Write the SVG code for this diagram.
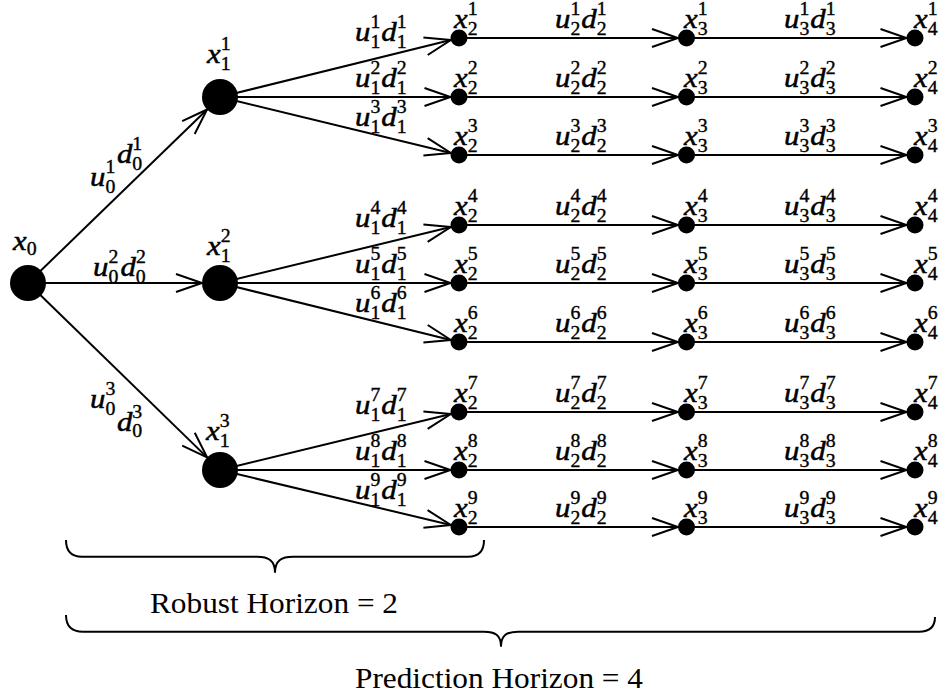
<svg xmlns="http://www.w3.org/2000/svg" width="945" height="696" viewBox="0 0 945 696">
  <style>
    .m { font-family: "Liberation Serif", "Times New Roman", serif; font-style: italic; font-size: 28px; fill: #000; stroke: #000; stroke-width: 0.5; }
    .s { font-style: normal; font-size: 18px; stroke-width: 0.35; }
    .h { font-family: "Liberation Serif", "Times New Roman", serif; font-size: 30px; fill: #000; }
    .e { stroke: #000; stroke-width: 2; fill: none; marker-end: url(#arr); }
    .brace { stroke: #000; stroke-width: 2; fill: none; }
    .node { fill: #000; }
  </style>
  <defs>
    <marker id="arr" markerUnits="userSpaceOnUse" markerWidth="40" markerHeight="40" refX="0" refY="0" orient="auto" overflow="visible">
      <path d="M-26,-9 L0,0 L-26,9" fill="none" stroke="#000" stroke-width="2"/>
    </marker>
  </defs>

  <!-- connectors -->
  <g id="connectors">
    <line class="e" x1="28" y1="283" x2="207.1" y2="109.5"/>
    <line class="e" x1="28" y1="283" x2="202" y2="283"/>
    <line class="e" x1="28" y1="283" x2="207.1" y2="457.4"/>

    <line class="e" x1="220" y1="97" x2="450.8" y2="40"/>
    <line class="e" x1="220" y1="97" x2="450.5" y2="97"/>
    <line class="e" x1="220" y1="97" x2="450.8" y2="153"/>
    <line class="e" x1="220" y1="283" x2="450.8" y2="227"/>
    <line class="e" x1="220" y1="283" x2="450.5" y2="283"/>
    <line class="e" x1="220" y1="283" x2="450.8" y2="340"/>
    <line class="e" x1="220" y1="470" x2="450.8" y2="414"/>
    <line class="e" x1="220" y1="470" x2="450.5" y2="470"/>
    <line class="e" x1="220" y1="470" x2="450.8" y2="525"/>

    <line class="e" x1="459" y1="38" x2="678" y2="38"/>
    <line class="e" x1="459" y1="97" x2="678" y2="97"/>
    <line class="e" x1="459" y1="155" x2="678" y2="155"/>
    <line class="e" x1="459" y1="225" x2="678" y2="225"/>
    <line class="e" x1="459" y1="283" x2="678" y2="283"/>
    <line class="e" x1="459" y1="342" x2="678" y2="342"/>
    <line class="e" x1="459" y1="412" x2="678" y2="412"/>
    <line class="e" x1="459" y1="470" x2="678" y2="470"/>
    <line class="e" x1="459" y1="527" x2="678" y2="527"/>

    <line class="e" x1="686.5" y1="38" x2="906.5" y2="38"/>
    <line class="e" x1="686.5" y1="97" x2="906.5" y2="97"/>
    <line class="e" x1="686.5" y1="155" x2="906.5" y2="155"/>
    <line class="e" x1="686.5" y1="225" x2="906.5" y2="225"/>
    <line class="e" x1="686.5" y1="283" x2="906.5" y2="283"/>
    <line class="e" x1="686.5" y1="342" x2="906.5" y2="342"/>
    <line class="e" x1="686.5" y1="412" x2="906.5" y2="412"/>
    <line class="e" x1="686.5" y1="470" x2="906.5" y2="470"/>
    <line class="e" x1="686.5" y1="527" x2="906.5" y2="527"/>

    <!-- edge labels: stage 0 (u^k_0 d^k_0) -->
    <text class="m" transform="translate(90,186) scale(1.1,1)">u<tspan class="s" dy="-13.5">1</tspan><tspan class="s" dx="-9" dy="20">0</tspan><tspan x="24.5" y="-23">d</tspan><tspan class="s" dy="-13.5">1</tspan><tspan class="s" dx="-9" dy="20">0</tspan></text>
    <text class="m" transform="translate(93,276) scale(1.1,1)">u<tspan class="s" dy="-13.5">2</tspan><tspan class="s" dx="-9" dy="20">0</tspan><tspan dx="2" dy="-6.5">d</tspan><tspan class="s" dy="-13.5">2</tspan><tspan class="s" dx="-9" dy="20">0</tspan></text>
    <text class="m" transform="translate(90,408) scale(1.1,1)">u<tspan class="s" dy="-13.5">3</tspan><tspan class="s" dx="-9" dy="20">0</tspan><tspan x="24.5" y="23">d</tspan><tspan class="s" dy="-13.5">3</tspan><tspan class="s" dx="-9" dy="20">0</tspan></text>

    <!-- edge labels: stage 1 -->
    <text class="m" transform="translate(355,41) scale(1.1,1)">u<tspan class="s" dy="-13.5">1</tspan><tspan class="s" dx="-9" dy="20">1</tspan><tspan dx="1" dy="-6.5">d</tspan><tspan class="s" dy="-13.5">1</tspan><tspan class="s" dx="-9" dy="20">1</tspan></text>
    <text class="m" transform="translate(355,87) scale(1.1,1)">u<tspan class="s" dy="-13.5">2</tspan><tspan class="s" dx="-9" dy="20">1</tspan><tspan dx="1" dy="-6.5">d</tspan><tspan class="s" dy="-13.5">2</tspan><tspan class="s" dx="-9" dy="20">1</tspan></text>
    <text class="m" transform="translate(355,126) scale(1.1,1)">u<tspan class="s" dy="-13.5">3</tspan><tspan class="s" dx="-9" dy="20">1</tspan><tspan dx="1" dy="-6.5">d</tspan><tspan class="s" dy="-13.5">3</tspan><tspan class="s" dx="-9" dy="20">1</tspan></text>
    <text class="m" transform="translate(355,227) scale(1.1,1)">u<tspan class="s" dy="-13.5">4</tspan><tspan class="s" dx="-9" dy="20">1</tspan><tspan dx="1" dy="-6.5">d</tspan><tspan class="s" dy="-13.5">4</tspan><tspan class="s" dx="-9" dy="20">1</tspan></text>
    <text class="m" transform="translate(355,273) scale(1.1,1)">u<tspan class="s" dy="-13.5">5</tspan><tspan class="s" dx="-9" dy="20">1</tspan><tspan dx="1" dy="-6.5">d</tspan><tspan class="s" dy="-13.5">5</tspan><tspan class="s" dx="-9" dy="20">1</tspan></text>
    <text class="m" transform="translate(355,312) scale(1.1,1)">u<tspan class="s" dy="-13.5">6</tspan><tspan class="s" dx="-9" dy="20">1</tspan><tspan dx="1" dy="-6.5">d</tspan><tspan class="s" dy="-13.5">6</tspan><tspan class="s" dx="-9" dy="20">1</tspan></text>
    <text class="m" transform="translate(355,414) scale(1.1,1)">u<tspan class="s" dy="-13.5">7</tspan><tspan class="s" dx="-9" dy="20">1</tspan><tspan dx="1" dy="-6.5">d</tspan><tspan class="s" dy="-13.5">7</tspan><tspan class="s" dx="-9" dy="20">1</tspan></text>
    <text class="m" transform="translate(355,460) scale(1.1,1)">u<tspan class="s" dy="-13.5">8</tspan><tspan class="s" dx="-9" dy="20">1</tspan><tspan dx="1" dy="-6.5">d</tspan><tspan class="s" dy="-13.5">8</tspan><tspan class="s" dx="-9" dy="20">1</tspan></text>
    <text class="m" transform="translate(355,499) scale(1.1,1)">u<tspan class="s" dy="-13.5">9</tspan><tspan class="s" dx="-9" dy="20">1</tspan><tspan dx="1" dy="-6.5">d</tspan><tspan class="s" dy="-13.5">9</tspan><tspan class="s" dx="-9" dy="20">1</tspan></text>

    <!-- edge labels: stage 2 -->
    <text class="m" transform="translate(555,28) scale(1.1,1)">u<tspan class="s" dy="-13.5">1</tspan><tspan class="s" dx="-9" dy="20">2</tspan><tspan dx="1" dy="-6.5">d</tspan><tspan class="s" dy="-13.5">1</tspan><tspan class="s" dx="-9" dy="20">2</tspan></text>
    <text class="m" transform="translate(555,87) scale(1.1,1)">u<tspan class="s" dy="-13.5">2</tspan><tspan class="s" dx="-9" dy="20">2</tspan><tspan dx="1" dy="-6.5">d</tspan><tspan class="s" dy="-13.5">2</tspan><tspan class="s" dx="-9" dy="20">2</tspan></text>
    <text class="m" transform="translate(555,145) scale(1.1,1)">u<tspan class="s" dy="-13.5">3</tspan><tspan class="s" dx="-9" dy="20">2</tspan><tspan dx="1" dy="-6.5">d</tspan><tspan class="s" dy="-13.5">3</tspan><tspan class="s" dx="-9" dy="20">2</tspan></text>
    <text class="m" transform="translate(555,215) scale(1.1,1)">u<tspan class="s" dy="-13.5">4</tspan><tspan class="s" dx="-9" dy="20">2</tspan><tspan dx="1" dy="-6.5">d</tspan><tspan class="s" dy="-13.5">4</tspan><tspan class="s" dx="-9" dy="20">2</tspan></text>
    <text class="m" transform="translate(555,273) scale(1.1,1)">u<tspan class="s" dy="-13.5">5</tspan><tspan class="s" dx="-9" dy="20">2</tspan><tspan dx="1" dy="-6.5">d</tspan><tspan class="s" dy="-13.5">5</tspan><tspan class="s" dx="-9" dy="20">2</tspan></text>
    <text class="m" transform="translate(555,332) scale(1.1,1)">u<tspan class="s" dy="-13.5">6</tspan><tspan class="s" dx="-9" dy="20">2</tspan><tspan dx="1" dy="-6.5">d</tspan><tspan class="s" dy="-13.5">6</tspan><tspan class="s" dx="-9" dy="20">2</tspan></text>
    <text class="m" transform="translate(555,402) scale(1.1,1)">u<tspan class="s" dy="-13.5">7</tspan><tspan class="s" dx="-9" dy="20">2</tspan><tspan dx="1" dy="-6.5">d</tspan><tspan class="s" dy="-13.5">7</tspan><tspan class="s" dx="-9" dy="20">2</tspan></text>
    <text class="m" transform="translate(555,460) scale(1.1,1)">u<tspan class="s" dy="-13.5">8</tspan><tspan class="s" dx="-9" dy="20">2</tspan><tspan dx="1" dy="-6.5">d</tspan><tspan class="s" dy="-13.5">8</tspan><tspan class="s" dx="-9" dy="20">2</tspan></text>
    <text class="m" transform="translate(555,517) scale(1.1,1)">u<tspan class="s" dy="-13.5">9</tspan><tspan class="s" dx="-9" dy="20">2</tspan><tspan dx="1" dy="-6.5">d</tspan><tspan class="s" dy="-13.5">9</tspan><tspan class="s" dx="-9" dy="20">2</tspan></text>

    <!-- edge labels: stage 3 -->
    <text class="m" transform="translate(784,28) scale(1.1,1)">u<tspan class="s" dy="-13.5">1</tspan><tspan class="s" dx="-9" dy="20">3</tspan><tspan dx="1" dy="-6.5">d</tspan><tspan class="s" dy="-13.5">1</tspan><tspan class="s" dx="-9" dy="20">3</tspan></text>
    <text class="m" transform="translate(784,87) scale(1.1,1)">u<tspan class="s" dy="-13.5">2</tspan><tspan class="s" dx="-9" dy="20">3</tspan><tspan dx="1" dy="-6.5">d</tspan><tspan class="s" dy="-13.5">2</tspan><tspan class="s" dx="-9" dy="20">3</tspan></text>
    <text class="m" transform="translate(784,145) scale(1.1,1)">u<tspan class="s" dy="-13.5">3</tspan><tspan class="s" dx="-9" dy="20">3</tspan><tspan dx="1" dy="-6.5">d</tspan><tspan class="s" dy="-13.5">3</tspan><tspan class="s" dx="-9" dy="20">3</tspan></text>
    <text class="m" transform="translate(784,215) scale(1.1,1)">u<tspan class="s" dy="-13.5">4</tspan><tspan class="s" dx="-9" dy="20">3</tspan><tspan dx="1" dy="-6.5">d</tspan><tspan class="s" dy="-13.5">4</tspan><tspan class="s" dx="-9" dy="20">3</tspan></text>
    <text class="m" transform="translate(784,273) scale(1.1,1)">u<tspan class="s" dy="-13.5">5</tspan><tspan class="s" dx="-9" dy="20">3</tspan><tspan dx="1" dy="-6.5">d</tspan><tspan class="s" dy="-13.5">5</tspan><tspan class="s" dx="-9" dy="20">3</tspan></text>
    <text class="m" transform="translate(784,332) scale(1.1,1)">u<tspan class="s" dy="-13.5">6</tspan><tspan class="s" dx="-9" dy="20">3</tspan><tspan dx="1" dy="-6.5">d</tspan><tspan class="s" dy="-13.5">6</tspan><tspan class="s" dx="-9" dy="20">3</tspan></text>
    <text class="m" transform="translate(784,402) scale(1.1,1)">u<tspan class="s" dy="-13.5">7</tspan><tspan class="s" dx="-9" dy="20">3</tspan><tspan dx="1" dy="-6.5">d</tspan><tspan class="s" dy="-13.5">7</tspan><tspan class="s" dx="-9" dy="20">3</tspan></text>
    <text class="m" transform="translate(784,460) scale(1.1,1)">u<tspan class="s" dy="-13.5">8</tspan><tspan class="s" dx="-9" dy="20">3</tspan><tspan dx="1" dy="-6.5">d</tspan><tspan class="s" dy="-13.5">8</tspan><tspan class="s" dx="-9" dy="20">3</tspan></text>
    <text class="m" transform="translate(784,517) scale(1.1,1)">u<tspan class="s" dy="-13.5">9</tspan><tspan class="s" dx="-9" dy="20">3</tspan><tspan dx="1" dy="-6.5">d</tspan><tspan class="s" dy="-13.5">9</tspan><tspan class="s" dx="-9" dy="20">3</tspan></text>
  </g>

  <!-- root and first-stage nodes -->
  <g id="n-x0"><circle class="node" cx="28" cy="283" r="18"/><text class="m" transform="translate(13,250) scale(1.1,1)">x<tspan class="s" dy="5">0</tspan></text></g>
  <g id="n-x1-1"><circle class="node" cx="220" cy="97" r="18"/><text class="m" transform="translate(207,63) scale(1.1,1)">x<tspan class="s" dy="-13.5">1</tspan><tspan class="s" dx="-9" dy="20">1</tspan></text></g>
  <g id="n-x1-2"><circle class="node" cx="220" cy="283" r="18"/><text class="m" transform="translate(207,255) scale(1.1,1)">x<tspan class="s" dy="-13.5">2</tspan><tspan class="s" dx="-9" dy="20">1</tspan></text></g>
  <g id="n-x1-3"><circle class="node" cx="220" cy="470" r="18"/><text class="m" transform="translate(206,440) scale(1.1,1)">x<tspan class="s" dy="-13.5">3</tspan><tspan class="s" dx="-9" dy="20">1</tspan></text></g>

  <!-- stage 2 nodes -->
  <g id="n-x2-1"><circle class="node" cx="459" cy="38" r="8.5"/><text class="m" transform="translate(454,28) scale(1.1,1)">x<tspan class="s" dy="-13.5">1</tspan><tspan class="s" dx="-9" dy="20">2</tspan></text></g>
  <g id="n-x2-2"><circle class="node" cx="459" cy="97" r="8.5"/><text class="m" transform="translate(454,87) scale(1.1,1)">x<tspan class="s" dy="-13.5">2</tspan><tspan class="s" dx="-9" dy="20">2</tspan></text></g>
  <g id="n-x2-3"><circle class="node" cx="459" cy="155" r="8.5"/><text class="m" transform="translate(454,145) scale(1.1,1)">x<tspan class="s" dy="-13.5">3</tspan><tspan class="s" dx="-9" dy="20">2</tspan></text></g>
  <g id="n-x2-4"><circle class="node" cx="459" cy="225" r="8.5"/><text class="m" transform="translate(454,215) scale(1.1,1)">x<tspan class="s" dy="-13.5">4</tspan><tspan class="s" dx="-9" dy="20">2</tspan></text></g>
  <g id="n-x2-5"><circle class="node" cx="459" cy="283" r="8.5"/><text class="m" transform="translate(454,273) scale(1.1,1)">x<tspan class="s" dy="-13.5">5</tspan><tspan class="s" dx="-9" dy="20">2</tspan></text></g>
  <g id="n-x2-6"><circle class="node" cx="459" cy="342" r="8.5"/><text class="m" transform="translate(454,332) scale(1.1,1)">x<tspan class="s" dy="-13.5">6</tspan><tspan class="s" dx="-9" dy="20">2</tspan></text></g>
  <g id="n-x2-7"><circle class="node" cx="459" cy="412" r="8.5"/><text class="m" transform="translate(454,402) scale(1.1,1)">x<tspan class="s" dy="-13.5">7</tspan><tspan class="s" dx="-9" dy="20">2</tspan></text></g>
  <g id="n-x2-8"><circle class="node" cx="459" cy="470" r="8.5"/><text class="m" transform="translate(454,460) scale(1.1,1)">x<tspan class="s" dy="-13.5">8</tspan><tspan class="s" dx="-9" dy="20">2</tspan></text></g>
  <g id="n-x2-9"><circle class="node" cx="459" cy="527" r="8.5"/><text class="m" transform="translate(454,517) scale(1.1,1)">x<tspan class="s" dy="-13.5">9</tspan><tspan class="s" dx="-9" dy="20">2</tspan></text></g>

  <!-- stage 3 nodes -->
  <g id="n-x3-1"><circle class="node" cx="686.5" cy="38" r="8.5"/><text class="m" transform="translate(684,28) scale(1.1,1)">x<tspan class="s" dy="-13.5">1</tspan><tspan class="s" dx="-9" dy="20">3</tspan></text></g>
  <g id="n-x3-2"><circle class="node" cx="686.5" cy="97" r="8.5"/><text class="m" transform="translate(684,87) scale(1.1,1)">x<tspan class="s" dy="-13.5">2</tspan><tspan class="s" dx="-9" dy="20">3</tspan></text></g>
  <g id="n-x3-3"><circle class="node" cx="686.5" cy="155" r="8.5"/><text class="m" transform="translate(684,145) scale(1.1,1)">x<tspan class="s" dy="-13.5">3</tspan><tspan class="s" dx="-9" dy="20">3</tspan></text></g>
  <g id="n-x3-4"><circle class="node" cx="686.5" cy="225" r="8.5"/><text class="m" transform="translate(684,215) scale(1.1,1)">x<tspan class="s" dy="-13.5">4</tspan><tspan class="s" dx="-9" dy="20">3</tspan></text></g>
  <g id="n-x3-5"><circle class="node" cx="686.5" cy="283" r="8.5"/><text class="m" transform="translate(684,273) scale(1.1,1)">x<tspan class="s" dy="-13.5">5</tspan><tspan class="s" dx="-9" dy="20">3</tspan></text></g>
  <g id="n-x3-6"><circle class="node" cx="686.5" cy="342" r="8.5"/><text class="m" transform="translate(684,332) scale(1.1,1)">x<tspan class="s" dy="-13.5">6</tspan><tspan class="s" dx="-9" dy="20">3</tspan></text></g>
  <g id="n-x3-7"><circle class="node" cx="686.5" cy="412" r="8.5"/><text class="m" transform="translate(684,402) scale(1.1,1)">x<tspan class="s" dy="-13.5">7</tspan><tspan class="s" dx="-9" dy="20">3</tspan></text></g>
  <g id="n-x3-8"><circle class="node" cx="686.5" cy="470" r="8.5"/><text class="m" transform="translate(684,460) scale(1.1,1)">x<tspan class="s" dy="-13.5">8</tspan><tspan class="s" dx="-9" dy="20">3</tspan></text></g>
  <g id="n-x3-9"><circle class="node" cx="686.5" cy="527" r="8.5"/><text class="m" transform="translate(684,517) scale(1.1,1)">x<tspan class="s" dy="-13.5">9</tspan><tspan class="s" dx="-9" dy="20">3</tspan></text></g>

  <!-- stage 4 nodes -->
  <g id="n-x4-1"><circle class="node" cx="915" cy="38" r="8.5"/><text class="m" transform="translate(914,28) scale(1.1,1)">x<tspan class="s" dy="-13.5">1</tspan><tspan class="s" dx="-9" dy="20">4</tspan></text></g>
  <g id="n-x4-2"><circle class="node" cx="915" cy="97" r="8.5"/><text class="m" transform="translate(914,87) scale(1.1,1)">x<tspan class="s" dy="-13.5">2</tspan><tspan class="s" dx="-9" dy="20">4</tspan></text></g>
  <g id="n-x4-3"><circle class="node" cx="915" cy="155" r="8.5"/><text class="m" transform="translate(914,145) scale(1.1,1)">x<tspan class="s" dy="-13.5">3</tspan><tspan class="s" dx="-9" dy="20">4</tspan></text></g>
  <g id="n-x4-4"><circle class="node" cx="915" cy="225" r="8.5"/><text class="m" transform="translate(914,215) scale(1.1,1)">x<tspan class="s" dy="-13.5">4</tspan><tspan class="s" dx="-9" dy="20">4</tspan></text></g>
  <g id="n-x4-5"><circle class="node" cx="915" cy="283" r="8.5"/><text class="m" transform="translate(914,273) scale(1.1,1)">x<tspan class="s" dy="-13.5">5</tspan><tspan class="s" dx="-9" dy="20">4</tspan></text></g>
  <g id="n-x4-6"><circle class="node" cx="915" cy="342" r="8.5"/><text class="m" transform="translate(914,332) scale(1.1,1)">x<tspan class="s" dy="-13.5">6</tspan><tspan class="s" dx="-9" dy="20">4</tspan></text></g>
  <g id="n-x4-7"><circle class="node" cx="915" cy="412" r="8.5"/><text class="m" transform="translate(914,402) scale(1.1,1)">x<tspan class="s" dy="-13.5">7</tspan><tspan class="s" dx="-9" dy="20">4</tspan></text></g>
  <g id="n-x4-8"><circle class="node" cx="915" cy="470" r="8.5"/><text class="m" transform="translate(914,460) scale(1.1,1)">x<tspan class="s" dy="-13.5">8</tspan><tspan class="s" dx="-9" dy="20">4</tspan></text></g>
  <g id="n-x4-9"><circle class="node" cx="915" cy="527" r="8.5"/><text class="m" transform="translate(914,517) scale(1.1,1)">x<tspan class="s" dy="-13.5">9</tspan><tspan class="s" dx="-9" dy="20">4</tspan></text></g>

  <!-- horizon braces -->
  <g id="robust-horizon">
    <path class="brace" d="M66,540 Q66,556.7 82,556.7 L257,556.7 C268,556.7 275,560 275,572.7 C275,560 282,556.7 293,556.7 L468,556.7 Q484,556.7 484,540"/>
    <text class="h" x="150" y="612.7" textLength="248" lengthAdjust="spacingAndGlyphs">Robust Horizon = 2</text>
  </g>
  <g id="prediction-horizon">
    <path class="brace" d="M66,615 Q66,631.7 83,631.7 L484,631.7 C495,631.7 501,635 501,646.7 C501,635 507,631.7 518,631.7 L919,631.7 Q935,631.7 935,617"/>
    <text class="h" x="355" y="688" textLength="288" lengthAdjust="spacingAndGlyphs">Prediction Horizon = 4</text>
  </g>
</svg>
